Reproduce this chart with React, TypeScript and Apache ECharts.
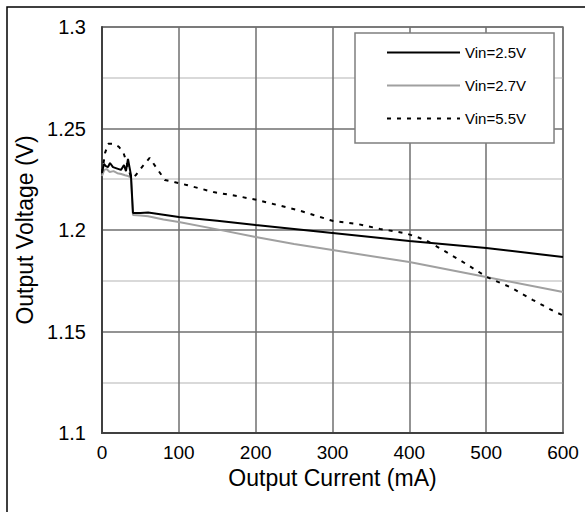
import React, { useEffect, useRef } from "react";
import * as echarts from "echarts";

const seriesNames = ["Vin=2.5V", "Vin=2.7V", "Vin=5.5V"];

const current25 = [0, 2.6, 5, 7.8, 10.4, 14.3, 18, 24.7, 28.6, 31.2, 33.8, 37.7, 40.3, 50, 60, 80, 100, 150, 200, 300, 400, 500, 600];
const volt25 = [1.2286, 1.2325, 1.2315, 1.231, 1.233, 1.231, 1.2305, 1.2296, 1.232, 1.229, 1.235, 1.227, 1.2084, 1.2084, 1.2086, 1.2075, 1.2064, 1.2046, 1.2025, 1.1985, 1.1946, 1.1911, 1.1867];

const current27 = [0, 3, 6, 10, 15, 20, 25, 30, 34, 37.7, 40.3, 50, 60, 80, 100, 150, 200, 250, 300, 400, 500, 600];
const volt27 = [1.2266, 1.2296, 1.23, 1.2286, 1.229, 1.228, 1.2276, 1.227, 1.2266, 1.2256, 1.2074, 1.2072, 1.2068, 1.2052, 1.2039, 1.2003, 1.1966, 1.1931, 1.1901, 1.1842, 1.1768, 1.1695];

const current55 = [0, 4, 8, 15, 22, 28, 33, 38, 44, 52, 62, 72, 82, 95, 110, 145, 176, 202, 223, 254, 301, 332, 362, 394, 410, 423, 437, 450, 476, 501, 531, 561, 590, 600];
const volt55 = [1.228, 1.238, 1.2425, 1.2425, 1.241, 1.238, 1.232, 1.2255, 1.227, 1.231, 1.2355, 1.23, 1.2246, 1.2235, 1.2222, 1.2187, 1.2167, 1.2148, 1.2128, 1.2099, 1.2044, 1.203, 1.2005, 1.1985, 1.1966, 1.1946, 1.1916, 1.1887, 1.1828, 1.1768, 1.1719, 1.1655, 1.1596, 1.158];

const xMin = 0, xMax = 600, xStep = 100;
const yMin = 1.1, yMax = 1.3, yStep = 0.05;

const zip = (xs: number[], ys: number[]) => xs.map((x, i) => [x, ys[i]]);

const FONT = "'Liberation Sans', Arial, sans-serif";

export default function App() {
  const ref = useRef<HTMLDivElement>(null);
  useEffect(() => {
    if (!ref.current) return;
    const chart = echarts.init(ref.current, null, { renderer: "svg" });
    chart.setOption({
      animation: false,
      backgroundColor: "#ffffff",
      textStyle: { fontFamily: FONT },
      grid: { left: 102, right: 22, top: 27, bottom: 79, show: true, borderColor: "#7f7f7f", borderWidth: 1.5 },
      graphic: [
        {
          type: "rect",
          shape: { x: 7, y: 7, width: 700, height: 700 },
          style: { fill: "none", stroke: "#000", lineWidth: 1.5 },
          z: -10,
        },
      ],
      legend: {
        orient: "vertical",
        left: 355,
        top: 33,
        data: seriesNames,
        itemWidth: 73,
        itemHeight: 12,
        itemGap: 18,
        padding: [12, 28, 17, 31],
        backgroundColor: "#ffffff",
        borderColor: "#7f7f7f",
        borderWidth: 1.5,
        borderRadius: 0,
        itemStyle: { opacity: 0 },
        textStyle: { fontSize: 15, color: "#000", fontFamily: FONT },
      },
      xAxis: {
        type: "value",
        min: xMin,
        max: xMax,
        interval: xStep,
        name: "Output Current (mA)",
        nameLocation: "middle",
        nameGap: 30,
        nameTextStyle: { fontSize: 23, color: "#000", fontFamily: FONT },
        axisLine: { show: true, lineStyle: { color: "#404040", width: 2 } },
        axisTick: { show: false },
        axisLabel: { fontSize: 19, color: "#000", margin: 10, fontFamily: FONT },
        splitLine: { show: true, lineStyle: { color: "#6f6f6f", width: 1.5 } },
      },
      yAxis: {
        type: "value",
        min: yMin,
        max: yMax,
        interval: yStep,
        name: "Output Voltage (V)",
        nameLocation: "middle",
        nameGap: 63,
        nameTextStyle: { fontSize: 23, color: "#000", fontFamily: FONT },
        axisLine: { show: true, lineStyle: { color: "#404040", width: 2 } },
        axisTick: { show: false },
        axisLabel: { fontSize: 20, color: "#000", margin: 16, fontFamily: FONT },
        splitLine: { show: true, lineStyle: { color: "#6f6f6f", width: 1.5 } },
        minorTick: { show: false, splitNumber: 2 },
        minorSplitLine: { show: true, lineStyle: { color: "#d9d9d9", width: 2 } },
      },
      series: [
        {
          name: seriesNames[0],
          type: "line",
          data: zip(current25, volt25),
          symbol: "none",
          z: 4,
          lineStyle: { color: "#000000", width: 2 },
          itemStyle: { color: "#000000" },
        },
        {
          name: seriesNames[1],
          type: "line",
          data: zip(current27, volt27),
          symbol: "none",
          z: 3,
          lineStyle: { color: "#a0a0a0", width: 2 },
          itemStyle: { color: "#a0a0a0" },
        },
        {
          name: seriesNames[2],
          type: "line",
          data: zip(current55, volt55),
          symbol: "none",
          z: 5,
          lineStyle: { color: "#000000", width: 2, type: [4, 6] },
          itemStyle: { color: "#000000" },
        },
      ],
    });
    return () => chart.dispose();
  }, []);
  return (
    <div
      ref={ref}
      style={{ position: "fixed", left: 0, top: 0, width: 585, height: 512, background: "#fff" }}
    />
  );
}
